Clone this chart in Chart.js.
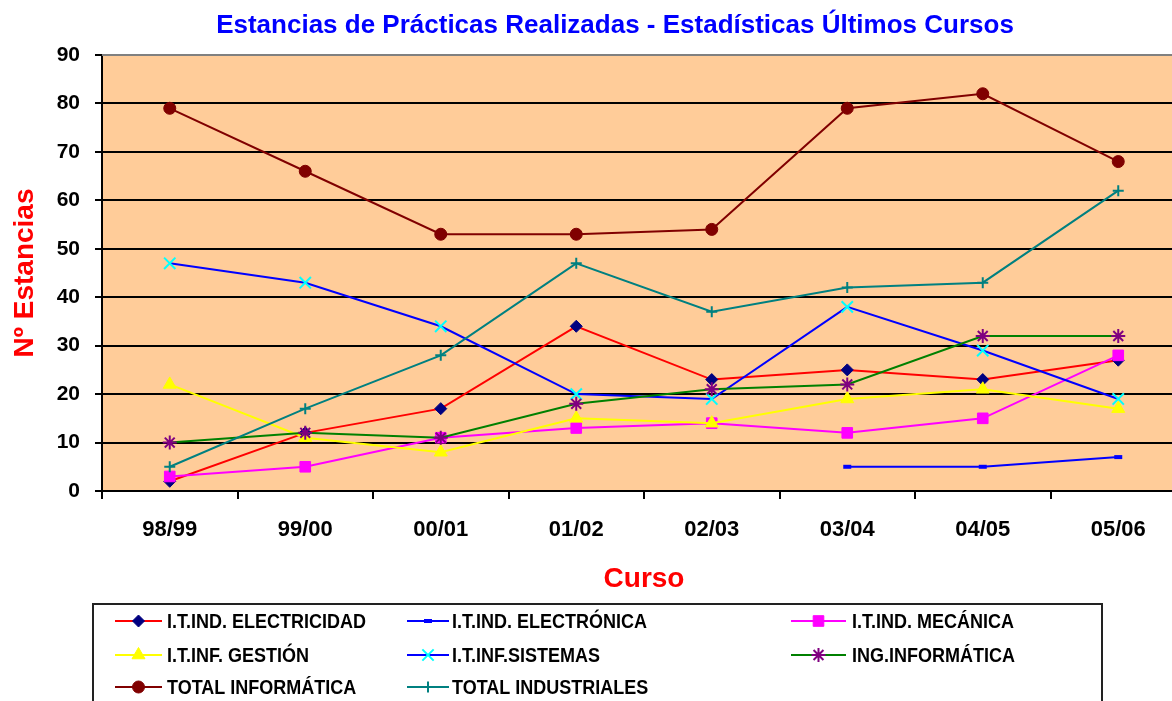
<!DOCTYPE html>
<html>
<head>
<meta charset="utf-8">
<title>Estancias de Prácticas Realizadas</title>
<script src="https://cdn.jsdelivr.net/npm/chart.js@4/dist/chart.umd.min.js"></script>
<style>
	html, body { margin: 0; padding: 0; background: #fff; overflow: hidden; }
	canvas { display: block; }
</style>
</head>
<body>
<canvas id="graficoEstancias" width="1196" height="701"></canvas>
<script>
// datos
var cursos = ['98/99', '99/00', '00/01', '01/02', '02/03', '03/04', '04/05', '05/06'];
var series = ['I.T.IND. ELECTRICIDAD', 'I.T.IND. ELECTRÓNICA', 'I.T.IND. MECÁNICA',
	'I.T.INF. GESTIÓN', 'I.T.INF.SISTEMAS', 'ING.INFORMÁTICA',
	'TOTAL INFORMÁTICA', 'TOTAL INDUSTRIALES'];
var electricidad = [2, 12, 17, 34, 23, 25, 23, 27];
var electronica = [null, null, null, null, null, 5, 5, 7];
var mecanica = [3, 5, 11, 13, 14, 12, 15, 28];
var gestion = [22, 11, 8, 15, 14, 19, 21, 17];
var sistemas = [47, 43, 34, 20, 19, 38, 29, 19];
var ingInformatica = [10, 12, 11, 18, 21, 22, 32, 32];
var totalInformatica = [79, 66, 53, 53, 54, 79, 82, 68];
var totalIndustriales = [5, 17, 28, 47, 37, 42, 43, 62];
var ticksY = [0, 10, 20, 30, 40, 50, 60, 70, 80, 90];

var titulo = 'Estancias de Prácticas Realizadas - Estadísticas Últimos Cursos';
var tituloY = 'Nº Estancias';
var tituloX = 'Curso';

// estilos de cada serie (como en Excel)
var coresLinha = ['#FF0000', '#0000FF', '#FF00FF', '#FFFF00', '#0000FF', '#008000', '#800000', '#008080'];
var coresMarca = ['#000080', '#0000FF', '#FF00FF', '#FFFF00', '#00FFFF', '#800080', '#800000', '#008080'];
var estilos = ['rectRot', 'line', 'rect', 'triangle', 'crossRot', 'star', 'circle', 'cross'];
var raios = [6, 4, 7.5, 7.5, 8, 7, 6, 5.5];
var bordas = [1, 4, 1, 1, 2, 2, 1, 2];

var fonte = '"Liberation Sans", Arial, sans-serif';

var valores = [electricidad, electronica, mecanica, gestion, sistemas, ingInformatica, totalInformatica, totalIndustriales];

var datasets = valores.map(function(dados, i) {
	return {
		label: series[i],
		data: dados,
		borderColor: coresLinha[i],
		borderWidth: 2,
		backgroundColor: coresMarca[i],
		pointStyle: estilos[i],
		pointRadius: raios[i],
		pointBorderWidth: bordas[i],
		pointBackgroundColor: coresMarca[i],
		pointBorderColor: coresMarca[i],
		tension: 0,
		spanGaps: false,
		order: valores.length - i
	};
});

var fundoPlot = {
	id: 'fundoPlot',
	beforeDraw: function(chart) {
		var a = chart.chartArea;
		var ctx = chart.ctx;
		ctx.save();
		ctx.fillStyle = '#FFCC99';
		ctx.fillRect(a.left, a.top, a.right - a.left, a.bottom - a.top);
		ctx.restore();
	},
	beforeDatasetsDraw: function(chart) {
		var a = chart.chartArea;
		var ctx = chart.ctx;
		ctx.save();
		ctx.strokeStyle = '#808080';
		ctx.lineWidth = 2;
		ctx.beginPath();
		ctx.moveTo(a.left, a.top);
		ctx.lineTo(a.right, a.top);
		ctx.lineTo(a.right, a.bottom);
		ctx.stroke();
		ctx.restore();
	}
};

function desenhaMarca(ctx, i, x, y) {
	ctx.fillStyle = coresMarca[i];
	ctx.strokeStyle = coresMarca[i];
	ctx.lineWidth = bordas[i];
	Chart.helpers.drawPoint(ctx, {
		pointStyle: estilos[i],
		radius: raios[i],
		borderWidth: bordas[i],
		rotation: 0
	}, x, y);
}

var tituloELegenda = {
	id: 'tituloELegenda',
	afterDraw: function(chart) {
		var ctx = chart.ctx;
		ctx.save();

		ctx.fillStyle = '#0000FF';
		ctx.font = 'bold 26px ' + fonte;
		ctx.textAlign = 'center';
		ctx.textBaseline = 'middle';
		ctx.fillText(titulo, 615, 26);

		// legenda em 3 colunas
		ctx.fillStyle = '#FFFFFF';
		ctx.fillRect(93, 604, 1009, 110);
		ctx.strokeStyle = '#222';
		ctx.lineWidth = 2;
		ctx.strokeRect(93, 604, 1009, 110);

		var colX = [115, 407, 791];
		var colLinha = [47, 42, 55];
		var colTexto = [167, 452, 852];
		var filaY = [621, 655, 687];
		ctx.font = 'bold 18px ' + fonte;
		ctx.textAlign = 'left';
		ctx.textBaseline = 'middle';
		series.forEach(function(nome, i) {
			var c = i % 3;
			var x = colX[c];
			var y = filaY[Math.floor(i / 3)];
			ctx.strokeStyle = coresLinha[i];
			ctx.lineWidth = 2;
			ctx.beginPath();
			ctx.moveTo(x, y);
			ctx.lineTo(x + colLinha[c], y);
			ctx.stroke();
			desenhaMarca(ctx, i, x + colLinha[c] / 2, y);
			ctx.save();
			ctx.translate(colTexto[c], y + 1);
			ctx.scale(1, 1.15);
			ctx.fillStyle = '#000';
			ctx.fillText(nome, 0, 0);
			ctx.restore();
		});
		ctx.restore();
	}
};

var grafico = new Chart(document.getElementById('graficoEstancias').getContext('2d'), {
	type: 'line',
	data: {
		labels: cursos,
		datasets: datasets
	},
	options: {
		responsive: false,
		animation: false,
		layout: {
			padding: { top: 55, right: 1, bottom: 0, left: 0 }
		},
		plugins: {
			legend: { display: false },
			title: { display: false },
			tooltip: { enabled: false }
		},
		scales: {
			x: {
				offset: true,
				grid: {
					offset: true,
					drawOnChartArea: false,
					drawTicks: true,
					tickLength: 8,
					tickColor: '#000',
					lineWidth: 2
				},
				border: { display: true, color: '#000', width: 2 },
				ticks: {
					color: '#000',
					font: { family: fonte, size: 22, weight: 'bold' },
					padding: 18,
					maxRotation: 0,
					autoSkip: false
				},
				title: {
					display: true,
					text: tituloX,
					color: '#FF0000',
					font: { family: fonte, size: 28, weight: 'bold' },
					padding: { top: 0, bottom: 105 }
				},
				afterFit: function(scale) { scale.height = 210; }
			},
			y: {
				min: 0,
				max: 90,
				afterBuildTicks: function(scale) {
					scale.ticks = ticksY.map(function(v) { return { value: v }; });
				},
				grid: {
					color: '#000',
					lineWidth: 2,
					drawTicks: true,
					tickLength: 7,
					tickColor: '#000'
				},
				border: { display: true, color: '#000', width: 2 },
				ticks: {
					color: '#000',
					font: { family: fonte, size: 21, weight: 'bold' },
					padding: 15
				},
				title: {
					display: true,
					text: tituloY,
					color: '#FF0000',
					font: { family: fonte, size: 28, weight: 'bold' },
					padding: { top: 8, bottom: 0 }
				},
				afterFit: function(scale) { scale.width = 102; }
			}
		}
	},
	plugins: [fundoPlot, tituloELegenda]
});
</script>
</body>
</html>
